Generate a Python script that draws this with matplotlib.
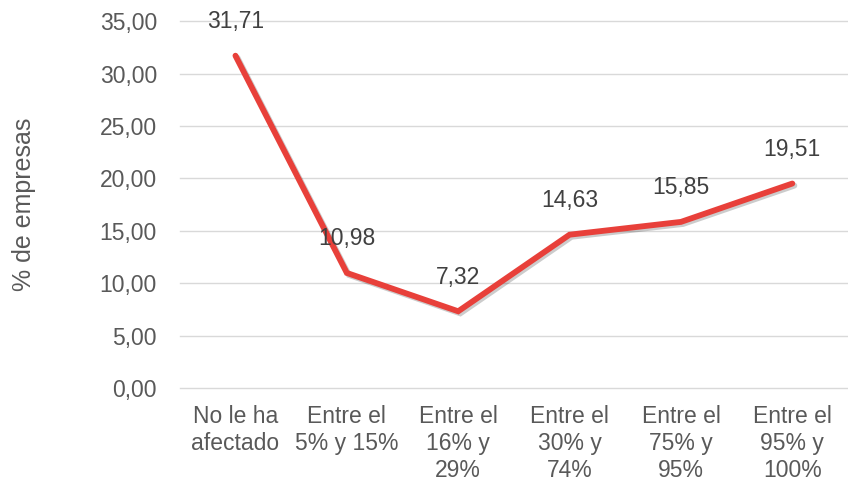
import numpy as np
import matplotlib.pyplot as plt
import matplotlib.patheffects as pe
from matplotlib.ticker import FuncFormatter, MultipleLocator

categorias = ["No le ha\nafectado", "Entre el\n5% y 15%", "Entre el\n16% y\n29%",
              "Entre el\n30% y\n74%", "Entre el\n75% y\n95%", "Entre el\n95% y\n100%"]
valores = [31.71, 10.98, 7.32, 14.63, 15.85, 19.51]

gris = "#595959"
rojo = "#E8403A"

plt.rcParams['font.family'] = ['Liberation Sans', 'DejaVu Sans']

def coma(v, pos=None):
    return f"{v:.2f}".replace(".", ",")

def main():
    fig = plt.figure(figsize=(8.48, 4.82), dpi=100)
    ax = fig.add_axes([0.212, 0.195, 0.788, 0.761])

    x = np.arange(len(valores)) + 0.5
    ax.plot(x, valores, color=rojo, linewidth=4.2, solid_joinstyle='miter',
            solid_capstyle='round',
            path_effects=[pe.SimpleLineShadow(offset=(1.5, -1.5), alpha=0.2),
                          pe.Normal()], zorder=3)

    for xi, v in zip(x, valores):
        ax.annotate(coma(v), (xi, v), xytext=(0, 24.5), textcoords='offset points',
                    ha='center', va='center', fontsize=16.5, color="#404040", zorder=4)

    ax.set_xlim(0, len(valores))
    ax.set_ylim(0, 35)
    ax.yaxis.set_major_locator(MultipleLocator(5))
    ax.yaxis.set_major_formatter(FuncFormatter(coma))
    ax.set_xticks(x)
    ax.set_xticklabels(categorias, linespacing=1.22)

    ax.grid(axis='y', color="#d9d9d9", linewidth=1)
    for line in ax.get_ygridlines():
        line.set_clip_on(False)
    ax.set_axisbelow(True)
    for s in ax.spines.values():
        s.set_visible(False)
    ax.tick_params(axis='both', length=0, labelsize=16.5, labelcolor=gris)
    ax.tick_params(axis='y', pad=16.5)
    ax.tick_params(axis='x', pad=12)

    ax.set_ylabel("% de empresas", fontsize=18, color=gris, labelpad=46)

    fig.savefig("out.png", dpi=100)

if __name__ == "__main__":
    main()
